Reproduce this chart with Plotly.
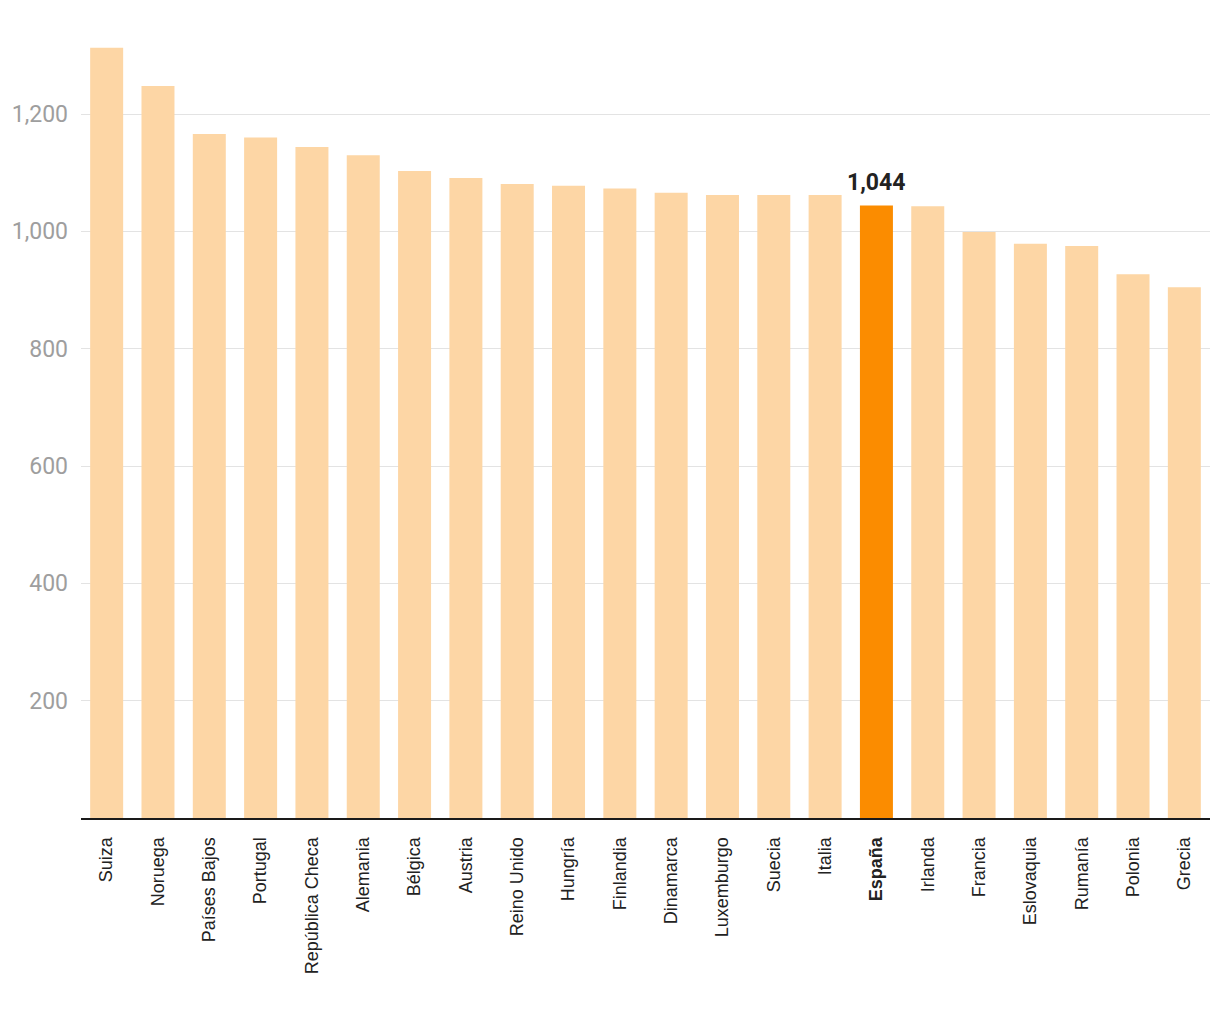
import plotly.graph_objects as go

countries = ["Suiza", "Noruega", "Países Bajos", "Portugal", "República Checa", "Alemania",
             "Bélgica", "Austria", "Reino Unido", "Hungría", "Finlandia", "Dinamarca",
             "Luxemburgo", "Suecia", "Italia", "España", "Irlanda", "Francia",
             "Eslovaquia", "Rumanía", "Polonia", "Grecia"]
values = [1313, 1248, 1166, 1160, 1144, 1130, 1103, 1091, 1081, 1078, 1073, 1066,
          1062, 1062, 1062, 1044, 1043, 999, 979, 975, 927, 905]
highlight = "España"
tick_vals = [200, 400, 600, 800, 1000, 1200]

colors = ["#fb8c00" if c == highlight else "#fdd6a5" for c in countries]
ticktext = [f"<b>{c}</b>" if c == highlight else c for c in countries]
hv = values[countries.index(highlight)]

fig = go.Figure(go.Bar(
    x=countries, y=values, marker=dict(color=colors, line=dict(width=0)),
    hoverinfo="skip",
))
fig.add_annotation(
    x=highlight, y=hv, text=f"<b>{hv:,}</b>", showarrow=False,
    yanchor="bottom", yshift=8,
    font=dict(family="Roboto", size=23, color="#222222"),
)

fig.update_layout(
    width=1220, height=1020,
    margin=dict(l=81, r=10, t=32, b=202),
    plot_bgcolor="white", paper_bgcolor="white",
    bargap=0.357, showlegend=False,
)
fig.update_yaxes(
    range=[0, 1340], tickvals=tick_vals, tickformat=",",
    showgrid=True, gridcolor="#e3e3e3", gridwidth=1,
    zeroline=False, showline=False,
    tickfont=dict(family="Roboto", size=23, color="#9e9e9e"),
    ticks="", ticklabelstandoff=12,
)
fig.update_xaxes(
    tickvals=countries, ticktext=ticktext, tickangle=-90,
    showline=True, linecolor="#1a1a1a", linewidth=2,
    tickfont=dict(family="Liberation Sans", size=18, color="#222222"),
    ticks="", ticklabelstandoff=10,
)

fig.write_html("out.html")
